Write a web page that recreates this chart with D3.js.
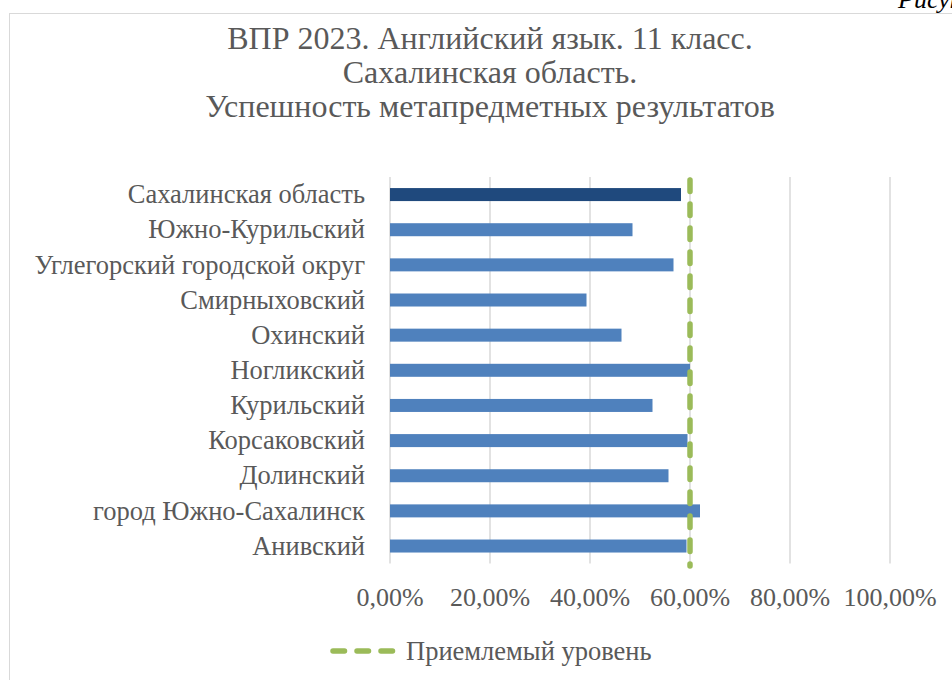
<!DOCTYPE html>
<html><head><meta charset="utf-8">
<script src="https://cdn.jsdelivr.net/npm/d3@7"></script>
<style>body{margin:0;background:#fff}svg{display:block}</style>
</head><body>
<svg id="c" width="952" height="680"></svg>
<script>
const categories = ["Сахалинская область","Южно-Курильский","Углегорский городской округ","Смирныховский","Охинский","Ногликский","Курильский","Корсаковский","Долинский","город Южно-Сахалинск","Анивский"];
const values = [58.2,48.5,56.7,39.3,46.3,60.0,52.5,59.5,55.7,62.0,59.3];
const threshold = 60;
const ticks = [0,20,40,60,80,100];
const titleLines = ["ВПР 2023. Английский язык. 11 класс.","Сахалинская область.","Успешность метапредметных результатов"];
const legendLabel = "Приемлемый уровень";

const svg = d3.select("#c");
const serif = "'Liberation Serif','Times New Roman',serif";
// chart frame
svg.append("rect").attr("x",9.5).attr("y",13.5).attr("width",960).attr("height",700)
  .attr("fill","#fff").attr("stroke","#d9d9d9");
svg.append("text").attr("x",898).attr("y",8).attr("font-family",serif).attr("font-style","italic")
  .attr("font-size",26).attr("fill","#000").text("Рисунок");

const x = d3.scaleLinear().domain([0,100]).range([390,890]);
const y = d3.scaleBand().domain(categories).range([177,563.6]).paddingInner(0.63).paddingOuter(0.315);

// gridlines
svg.append("g").selectAll("line").data(ticks).join("line")
  .attr("x1",d=>x(d)).attr("x2",d=>x(d)).attr("y1",177).attr("y2",563.6)
  .attr("stroke","#d9d9d9").attr("stroke-width",1.5);

// bars
svg.append("g").selectAll("rect").data(values).join("rect")
  .attr("x",x(0)).attr("y",(d,i)=>y(categories[i])).attr("width",d=>x(d)-x(0))
  .attr("height",y.bandwidth()).attr("fill",(d,i)=>i===0?"#1F497D":"#4F81BD");

// category labels
svg.append("g").selectAll("text").data(categories).join("text")
  .attr("x",365).attr("y",d=>y(d)+y.bandwidth()/2).attr("dy","0.33em")
  .attr("text-anchor","end").attr("font-family",serif).attr("font-size",26.5).attr("fill","#595959").text(d=>d);

// tick labels
svg.append("g").selectAll("text").data(ticks).join("text")
  .attr("x",d=>x(d)).attr("y",606).attr("text-anchor","middle")
  .attr("font-family",serif).attr("font-size",26).attr("fill","#595959")
  .text(d=>d3.format(".2f")(d).replace(".",",")+"%");

// threshold line
svg.append("line").attr("x1",x(threshold)).attr("x2",x(threshold)).attr("y1",180).attr("y2",566)
  .attr("stroke","#9BBB59").attr("stroke-width",5.5).attr("stroke-linecap","round")
  .attr("stroke-dasharray","11.5 12.5");

// title
svg.append("g").selectAll("text").data(titleLines).join("text")
  .attr("x",490).attr("y",(d,i)=>49+i*34).attr("text-anchor","middle")
  .attr("font-family",serif).attr("font-size",32).attr("fill","#595959").text(d=>d);

// legend
svg.append("line").attr("x1",333).attr("x2",393).attr("y1",651).attr("y2",651)
  .attr("stroke","#9BBB59").attr("stroke-width",5.5).attr("stroke-linecap","round")
  .attr("stroke-dasharray","11.5 12.5");
svg.append("text").attr("x",406).attr("y",660).attr("font-family",serif).attr("font-size",26.5)
  .attr("fill","#595959").text(legendLabel);
</script>
</body></html>
